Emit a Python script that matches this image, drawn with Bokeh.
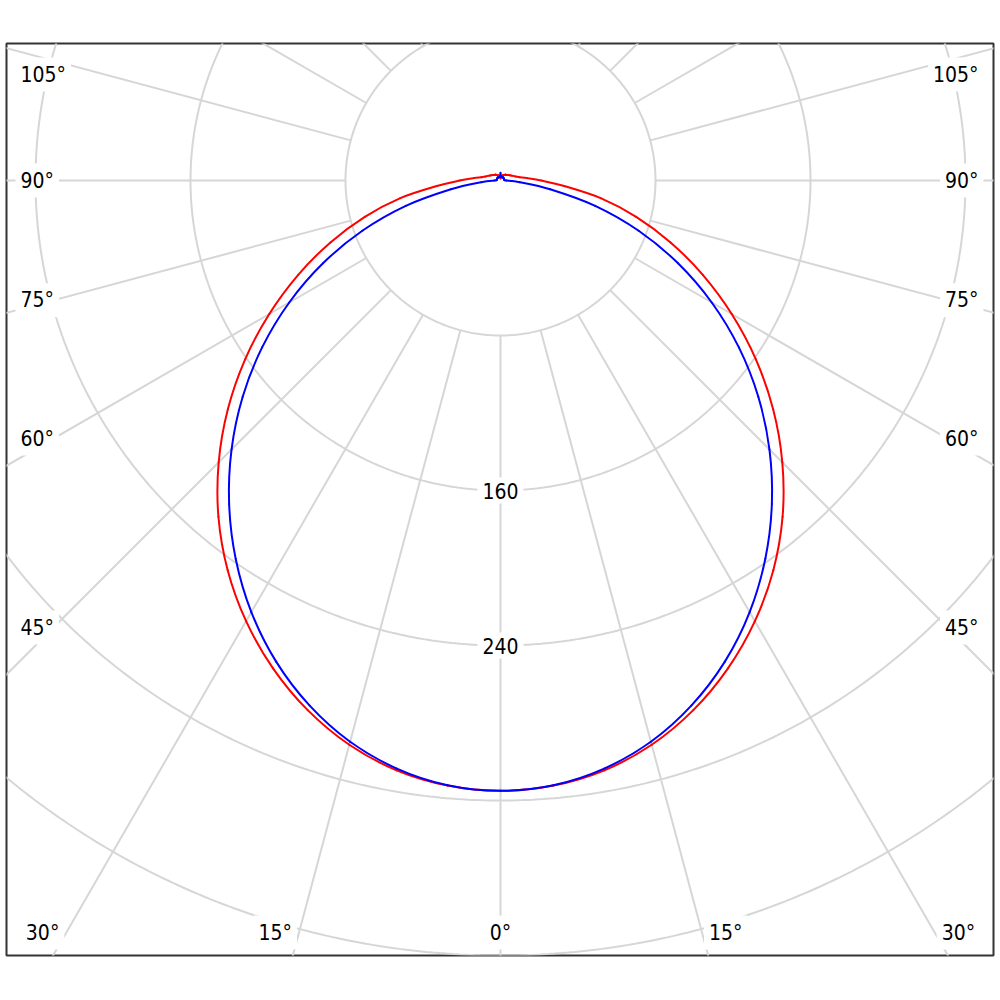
import numpy as np
from bokeh.plotting import figure
from bokeh.models import Range1d, ColumnDataSource
from bokeh.embed import file_html
from bokeh.resources import INLINE
from bokeh.core.properties import value, field

# ---------------- data (candela) ----------------
angles_deg = [0, 5, 10, 15, 20, 25, 30, 35, 40, 45, 50, 55, 60, 65, 70, 75, 80, 85, 90,
              95, 100, 105, 110, 115, 120, 125, 130, 135, 140, 145, 150, 155, 160, 165, 170, 175, 180]
red_cd = [315, 313.5, 309.1, 301.5, 290.9, 277.8, 262.6, 245.5, 226.5, 205.7, 183.7, 160.9, 137.8,
          115.2, 93.4, 72.5, 52.5, 33, 21,
          14, 10, 8, 7, 6, 5.5, 5, 4.5, 4, 4, 3.5, 3, 3, 2.5, 2, 2, 1.5, 1]
blue_cd = [315, 313.3, 308.2, 299.9, 288.3, 274.0, 257.2, 238.3, 217.9, 196.3, 173.7, 150.2, 125.9,
           101.1, 75.9, 50.6, 26.0, 10, 3,
           2, 2, 2, 2, 2, 2, 2, 2, 2, 2, 2, 2, 2, 2, 2, 2, 2, 4]
circle_values = [80, 160, 240, 320, 400, 480]
circle_labels = [160, 240]
spoke_step = 15
angle_labels = [0, 15, 30, 45, 60, 75, 90, 105]

# ---------------- layout ----------------
K = 155 / 80.0            # px per cd
CX, CY = 500, 180         # pole in page px
FL, FR, FT, FB = 6, 993, 43, 955
W, H = 996, 960

p = figure(width=W, height=H, output_backend="svg", toolbar_location=None,
           x_axis_location=None, y_axis_location=None,
           min_border_left=FL, min_border_right=W - FR,
           min_border_top=FT, min_border_bottom=H - FB,
           x_range=Range1d((FL - CX) / K, (FR - CX) / K),
           y_range=Range1d(-(FB - CY) / K, (CY - FT) / K))
p.xgrid.grid_line_color = None
p.ygrid.grid_line_color = None
p.outline_line_color = "#333333"
p.outline_line_width = 2
p.background_fill_color = "white"
p.border_fill_color = "white"

GRID = "#d6d6d6"
# circles
t = np.linspace(0, 2 * np.pi, 721)
p.multi_line(xs=[list(r * np.cos(t)) for r in circle_values],
             ys=[list(r * np.sin(t)) for r in circle_values],
             line_color=GRID, line_width=2)
# spokes from the inner circle outward
r0, r1 = circle_values[0], 700
sxs, sys_ = [], []
for a in range(-180, 181, spoke_step):
    ar = np.radians(a)
    sxs.append([r0 * np.sin(ar), r1 * np.sin(ar)])
    sys_.append([-r0 * np.cos(ar), -r1 * np.cos(ar)])
p.multi_line(xs=sxs, ys=sys_, line_color=GRID, line_width=2)


# curves (symmetric planes), drawn as smooth Bezier segments through the points
def curve_points(vals):
    a = np.array(angles_deg, dtype=float)
    v = np.array(vals, dtype=float)
    th = np.radians(np.concatenate([-a[::-1], a[1:-1]]))   # closed, no duplicate
    vv = np.concatenate([v[::-1], v[1:-1]])
    return vv * np.sin(th), -vv * np.cos(th)


def draw_smooth(vals, color):
    x, y = curve_points(vals)
    n = len(x)
    i = np.arange(n)
    im, ip, ip2 = (i - 1) % n, (i + 1) % n, (i + 2) % n
    p.bezier(x0=x[i], y0=y[i], x1=x[ip], y1=y[ip],
             cx0=x[i] + (x[ip] - x[im]) / 6, cy0=y[i] + (y[ip] - y[im]) / 6,
             cx1=x[ip] - (x[ip2] - x[i]) / 6, cy1=y[ip] - (y[ip2] - y[i]) / 6,
             line_color=color, line_width=2, line_cap="round")


draw_smooth(red_cd, "#ff0000")
draw_smooth(blue_cd, "#0000ff")

# labels
lx, ly, lt, la = [], [], [], []
side_x_px = 447        # where the spoke is read for side labels
bottom_y_px = 932
top_y_px = 74
left_text_px, right_text_px = 15, 983
gap_px = 2
for a in angle_labels:
    ar = np.radians(a)
    dy = bottom_y_px - CY
    if a < 90 and dy * np.tan(ar) <= side_x_px:
        dx = dy * np.tan(ar)
        yv = -dy / K
        if a == 0:
            lx.append(0); ly.append(yv); lt.append("0°"); la.append("center")
        else:
            for s in (-1, 1):
                lx.append(s * (dx + gap_px) / K); ly.append(yv)
                lt.append(f"{a}°"); la.append("right" if s < 0 else "left")
    else:
        yv = -side_x_px / np.tan(ar) / K
        yv = min(yv, (CY - top_y_px) / K)
        lx.append((left_text_px - CX) / K); ly.append(yv); lt.append(f"{a}°"); la.append("left")
        lx.append((right_text_px - CX) / K); ly.append(yv); lt.append(f"{a}°"); la.append("right")
for v in circle_labels:
    lx.append(0); ly.append(-v); lt.append(str(v)); la.append("center")

src = ColumnDataSource(dict(x=lx, y=ly, text=lt, align=la))
p.text(x="x", y="y", text="text", source=src, text_align=field("align"),
       text_baseline="middle", text_font=value("DejaVu Sans Condensed, DejaVu Sans"),
       text_font_size="21px",
       text_color="#000000", background_fill_color="white", padding=5)

open("out.html", "w").write(file_html(p, INLINE))
